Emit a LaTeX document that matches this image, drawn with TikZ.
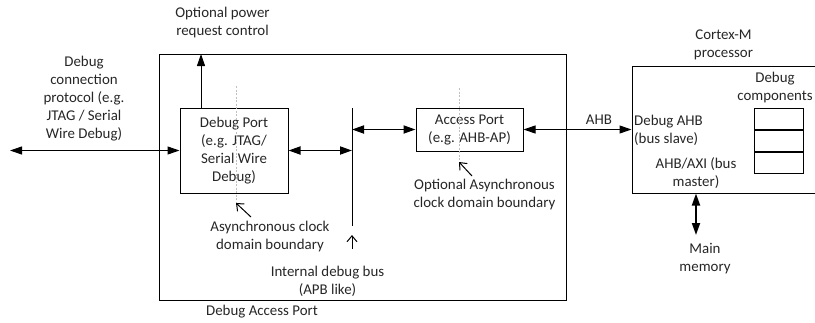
\documentclass[tikz,border=0pt]{standalone}
\usepackage{fontspec}
\setmainfont{Carlito}
\usetikzlibrary{arrows.meta,positioning,calc}

\begin{document}
\begin{tikzpicture}[x=1pt,y=-1pt,
  every node/.style={font=\fontsize{14.9}{18}\selectfont,text=black!85},
  box/.style={draw,line width=1pt,inner sep=0pt},
  lbl/.style={align=center,inner sep=0pt},
  thinarr/.style={line width=1pt,>={Triangle[length=12pt,width=8pt]}},
  thickarr/.style={line width=1.8pt,>={Triangle[length=12pt,width=8pt]}},
  pointer/.style={line width=1pt,-{Straight Barb[length=6pt,width=10pt]}},
  boundary/.style={gray!50,line width=1pt,dash pattern=on 2pt off 1.5pt}]
  \useasboundingbox (0,0) rectangle (815,322);

  % Debug Access Port
  \node[box,minimum width=407pt,minimum height=246pt] (dap) at (362.5,177) {};
  \node[lbl] (daplbl) at (262,312) {Debug Access Port};

  % Debug Port and Access Port
  \node[box,lbl,minimum width=108pt,minimum height=85pt] (dp) at (234,150.5)
    {Debug Port\\(e.g. JTAG/\\Serial Wire\\Debug)};
  \node[box,lbl,minimum width=107pt,minimum height=43pt] (ap) at (469.5,129.5)
    {Access Port\\(e.g. AHB-AP)};

  % Cortex-M processor
  \node[box,minimum width=198pt,minimum height=127pt] (cpu) at (731,129.5) {};
  \node[lbl] (cpulbl) at (723.5,45) {Cortex-M\\processor};
  \node[lbl,align=left,anchor=west] (slave) at (634,130.5) {Debug AHB\\(bus slave)};
  \node[lbl] (master) at (696,173.5) {AHB/AXI (bus\\master)};
  \node[lbl] (complbl) at (775,88) {Debug\\components};
  \node[box,minimum width=49pt,minimum height=21.3pt] (comp1) at (778.5,118.7) {};
  \node[box,minimum width=49pt,minimum height=21.3pt,below=0pt of comp1] (comp2) {};
  \node[box,minimum width=49pt,minimum height=21.3pt,below=0pt of comp2] (comp3) {};

  % Internal debug bus
  \coordinate (bustop) at (352,108);
  \coordinate (busbot) at (352,226);
  \draw[line width=1pt] (bustop) -- (busbot);

  % Links
  \coordinate (ext) at (10,150.5);
  \coordinate (pwr) at (201,54);
  \coordinate (memtop) at (696,235);
  \draw[thinarr,<->] (ext) -- (dp.west);
  \draw[thinarr,->] (dp.north -| pwr) -- (pwr);
  \draw[thickarr,<->] (dp.east) -- (dp.east -| bustop);
  \draw[thickarr,<->] (ap.west -| bustop) -- (ap.west);
  \draw[thinarr,<->] (ap.east) -- (cpu.west);
  \draw[thickarr,<->] (cpu.south -| memtop) -- (memtop);

  % Clock domain boundaries
  \coordinate (cdc1top) at (236,86);
  \coordinate (cdc1bot) at (236,202);
  \coordinate (cdc2top) at (459,88);
  \coordinate (cdc2bot) at (459,160);
  \draw[boundary] (cdc1top) -- (cdc1bot);
  \draw[boundary] (cdc2top) -- (cdc2bot);

  % Labels
  \node[lbl] (pwrlbl) at (222.5,22.5) {Optional power\\request control};
  \node[lbl] (extlbl) at (84,98.5)
    {Debug\\connection\\protocol (e.g.\\JTAG / Serial\\Wire Debug)};
  \node[lbl] (cdc1lbl) at (270,237) {Asynchronous clock\\domain boundary};
  \node[lbl] (cdc2lbl) at (484.5,195) {Optional Asynchronous\\clock domain boundary};
  \node[lbl] (buslbl) at (327.5,281) {Internal debug bus\\(APB like)};
  \node[lbl] (ahblbl) at (599,120) {AHB};
  \node[lbl] (memlbl) at (705,258.5) {Main\\memory};

  % Pointers
  \coordinate (cdc1ptr) at (251,217);
  \coordinate (cdc2ptr) at (472,176);
  \coordinate (busptr) at (352,249);
  \coordinate (busend) at (352,235);
  \draw[pointer] (cdc1ptr) -- ($(cdc1bot)+(0,1)$);
  \draw[pointer] (cdc2ptr) -- ($(cdc2bot)+(0,2)$);
  \draw[pointer] (busptr) -- (busend);
\end{tikzpicture}
\end{document}
